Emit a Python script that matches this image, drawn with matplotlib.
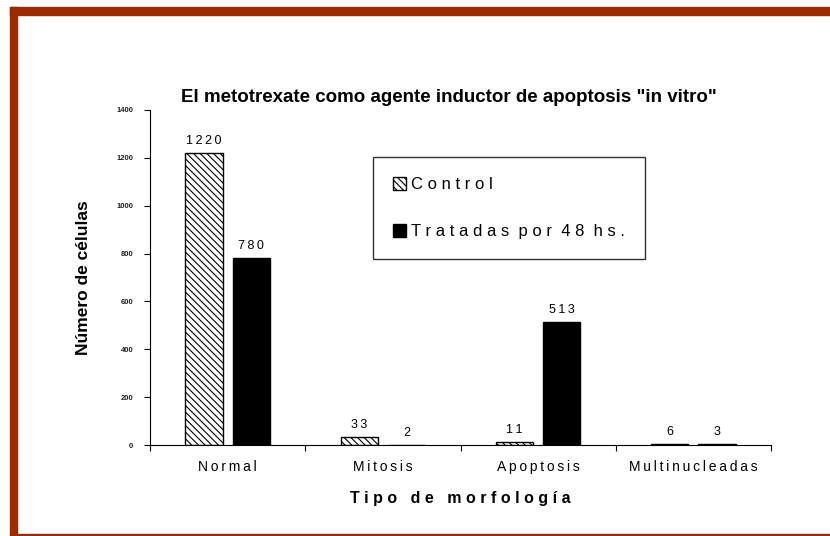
import numpy as np
import matplotlib.pyplot as plt
from matplotlib.patches import Rectangle

plt.rcParams['font.family'] = ['Liberation Sans', 'DejaVu Sans']
plt.rcParams['hatch.linewidth'] = 0.8

categories = ['Normal', 'Mitosis', 'Apoptosis', 'Multinucleadas']
control = [1220, 33, 11, 6]
tratadas = [780, 2, 513, 3]
yticks = [0, 200, 400, 600, 800, 1000, 1200, 1400]

W, H = 830, 536
fig = plt.figure(figsize=(W / 100, H / 100), dpi=100)


def spaced(s, sep='\u2009'):
    return sep.join(s)


# marco rojo
red = '#9c2c00'
fig.patches.append(Rectangle((10 / W, 1 - 15 / H), 1, 8 / H, transform=fig.transFigure, color=red, zorder=0))
fig.patches.append(Rectangle((10 / W, 0), 7 / W, 1 - 7 / H, transform=fig.transFigure, color=red, zorder=0))
fig.patches.append(Rectangle((10 / W, 0), 1, 2 / H, transform=fig.transFigure, color=red, zorder=0))

ax = fig.add_axes([150 / W, 1 - 445 / H, (771 - 150) / W, (445 - 110) / H])
x = np.arange(len(categories))
bw = 0.24
off = 0.152
b1 = ax.bar(x - off, control, bw, facecolor='white', edgecolor='black', hatch='\\\\\\\\\\', linewidth=1, label='Control')
b2 = ax.bar(x + off, tratadas, bw, facecolor='black', edgecolor='black', linewidth=1, label='Tratadas por 48 hs.')

for rects, vals in ((b1, control), (b2, tratadas)):
    for r, v in zip(rects, vals):
        ax.text(r.get_x() + r.get_width() / 2, v + 25, spaced(str(v)),
                ha='center', va='bottom', fontsize=9)

ax.set_xlim(-0.5, 3.5)
ax.set_ylim(0, 1400)
ax.set_yticks(yticks)
ax.set_yticklabels([str(t) for t in yticks], fontsize=5.5, fontweight='bold', color='#222222')
ax.set_xticks(np.arange(-0.5, 4, 1))
ax.set_xticklabels([])
ax.set_xticks(x, minor=True)
ax.set_xticklabels([spaced(c) for c in categories], minor=True, fontsize=10)
ax.tick_params(axis='x', which='minor', length=0, pad=11)
ax.tick_params(axis='x', which='major', length=4, direction='out')
ax.tick_params(axis='y', length=4, direction='out', pad=8)
ax.spines['top'].set_visible(False)
ax.spines['right'].set_visible(False)

ax.set_title('El metotrexate como agente inductor de apoptosis "in vitro"', fontsize=13.5, fontweight='bold',
             pad=6, x=0.481)
ax.set_ylabel('Número de células', fontsize=12.5, fontweight='bold', labelpad=18)
ax.set_xlabel('T i p o   d e   m o r f o l o g í a', fontsize=11.5, fontweight='bold', labelpad=12)

leg = fig.legend(handles=[b1, b2], labels=['C o n t r o l', 'T r a t a d a s  p o r  4 8  h s .'],
                 loc='upper left', bbox_to_anchor=(373 / W, 1 - 157 / H), fontsize=12,
                 frameon=True, fancybox=False, edgecolor='black', handlelength=0.8, handleheight=0.8,
                 handletextpad=0.3, labelspacing=1.9, borderpad=1.2, borderaxespad=0)
leg.get_frame().set_linewidth(1)

fig.savefig('out.png', dpi=100, facecolor='white')
